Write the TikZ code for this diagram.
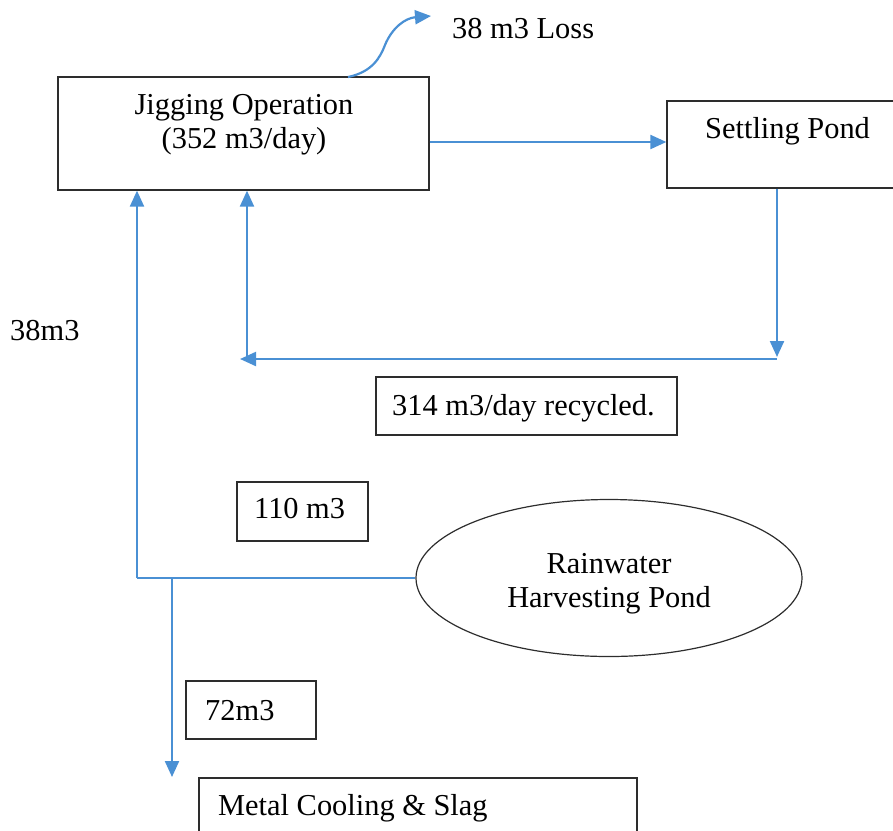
\documentclass[tikz,border=0pt]{standalone}
\usepackage{fontspec}
\setmainfont{Liberation Serif}
\usetikzlibrary{arrows.meta,shapes.geometric}
\definecolor{flow}{RGB}{74,144,212}
\definecolor{edge}{RGB}{45,45,45}
\begin{document}
\begin{tikzpicture}[x=1pt,y=-1pt,
  box/.style={draw=edge,line width=1.3pt,inner sep=0pt,rectangle},
  txt/.style={font=\fontsize{30.4}{34}\selectfont,inner sep=0pt,align=center},
  flowline/.style={draw=flow,line width=2.2pt},
  flowarrow/.style={flowline,-{Triangle[length=16pt,width=14pt]}}]
\useasboundingbox (0,0) rectangle (893,830);
\clip (0,0) rectangle (893,830);
% boxes
\node[box,minimum width=371pt,minimum height=113pt] (jig) at (243.5,133.5) {};
\node[txt] (jigt) at (244,125) {Jigging Operation\\(352 m3/day)};
\node[box,minimum width=240pt,minimum height=87pt] (set) at (787,144.5) {};
\node[txt,anchor=base west] (sett) at (705,138) {Settling Pond};
\node[box,minimum width=301pt,minimum height=58pt] (rec) at (526.5,406) {};
\node[txt,anchor=base west] (rect) at (392,415) {314 m3/day recycled.};
\node[box,minimum width=131pt,minimum height=59pt] (b110) at (302.5,511.5) {};
\node[txt,anchor=base west] (b110t) at (254,518) {110 m3};
\node[box,minimum width=130pt,minimum height=58pt] (b72) at (251,710) {};
\node[txt,anchor=base west] (b72t) at (205,720) {72m3};
\node[box,minimum width=438pt,minimum height=80pt] (metal) at (418,818) {};
\node[txt,anchor=base west] (metalt) at (218,815) {Metal Cooling \& Slag};
\node[draw=edge,line width=1.2pt,ellipse,inner sep=0pt,minimum width=386pt,minimum height=157pt] (rain) at (609,578) {};
\node[txt] (raint) at (609,584) {Rainwater\\Harvesting Pond};
\node[txt,anchor=base west] (loss) at (452,38) {38 m3 Loss};
\node[txt,anchor=base west] (l38) at (10,340) {38m3};
% coordinates
\coordinate (lossstart) at (348,77);
\coordinate (losstip) at (431,16);
\coordinate (c1) at (777,357);
\coordinate (c2) at (240,359);
\coordinate (c3) at (247,359);
\coordinate (c4) at (137,578);
\coordinate (c5) at (172,578);
\coordinate (c6) at (172,777);
% connectors
\draw[flowarrow] (jig.east |- 0,142) -- (set.west |- 0,142);
\draw[flowarrow] (set.south -| c1) -- (c1);
\draw[flowarrow] (c1 |- c2) -- (c2);
\draw[flowarrow] (c3) -- (jig.south -| c3);
\draw[flowline] (rain.west) -- (c4);
\draw[flowarrow] (c4) -- (jig.south -| c4);
\draw[flowarrow] (c5) -- (c6);
\draw[flowarrow] (lossstart) .. controls (372,72) and (380,58) .. (385,45) .. controls (392,28) and (405,18) .. (losstip);
\end{tikzpicture}
\end{document}
